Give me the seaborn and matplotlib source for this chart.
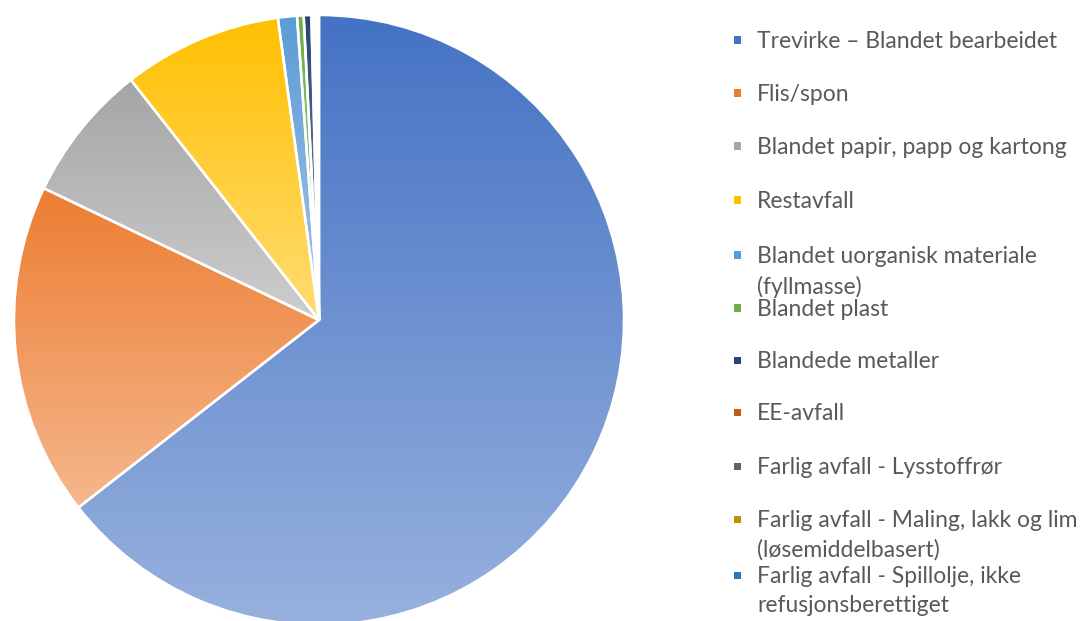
import numpy as np
import matplotlib
matplotlib.use("Agg")
import matplotlib.pyplot as plt
import matplotlib.colors as mcolors
from matplotlib.patches import Rectangle
import seaborn as sns

categories = [
    "Trevirke – Blandet bearbeidet",
    "Flis/spon",
    "Blandet papir, papp og kartong",
    "Restavfall",
    "Blandet uorganisk materiale\n(fyllmasse)",
    "Blandet plast",
    "Blandede metaller",
    "EE-avfall",
    "Farlig avfall - Lysstoffrør",
    "Farlig avfall - Maling, lakk og lim\n(løsemiddelbasert)",
    "Farlig avfall - Spillolje, ikke\nrefusjonsberettiget",
]
values = [64.3, 17.6, 7.3, 8.4, 1.0, 0.35, 0.4, 0.1, 0.1, 0.1, 0.1]
colors = ["#4472C4", "#ED7D31", "#A5A5A5", "#FFC000", "#5B9BD5", "#70AD47",
          "#264478", "#C55A11", "#636363", "#BF9000", "#2E75B6"]

sns.set_theme(style="white")
plt.rcParams["font.family"] = ["Lato", "DejaVu Sans"]

W, H = 1088, 621
fig = plt.figure(figsize=(W / 100, H / 100), dpi=100)
cx, cy, r = 319, 320, 305
ax = fig.add_axes([(cx - r) / W, (H - cy - r) / H, 2 * r / W, 2 * r / H])
ax.set_xlim(-1, 1)
ax.set_ylim(-1, 1)
ax.set_aspect("equal")
ax.axis("off")

wedges, _ = ax.pie(values, startangle=90, counterclock=False, radius=1,
                   colors=colors,
                   wedgeprops=dict(edgecolor="white", linewidth=1.8))

for w, c in zip(wedges, colors):
    verts = w.get_path().vertices
    x0, x1 = verts[:, 0].min(), verts[:, 0].max()
    y0, y1 = verts[:, 1].min(), verts[:, 1].max()
    base = np.array(mcolors.to_rgb(c))
    light = base + (1 - base) * 0.45
    t = np.linspace(0, 1, 256)[:, None]
    grad = (base[None, :] * (1 - t) + light[None, :] * t)[:, None, :]
    img = ax.imshow(grad, extent=[x0, x1, y0, y1], origin="upper",
                    aspect="auto", zorder=w.get_zorder() - 0.1,
                    interpolation="bilinear")
    img.set_clip_path(w)
    w.set_facecolor("none")
ax.set_xlim(-1, 1)
ax.set_ylim(-1, 1)

# legend
first_y = [40, 93, 146, 200, 255, 308, 360, 412, 466, 519, 575]
for lab, c, yy in zip(categories, colors, first_y):
    fig.patches.append(Rectangle((734 / W, (H - yy - 3.5) / H), 7 / W, 7 / H,
                                 transform=fig.transFigure, facecolor=c,
                                 edgecolor="none"))
    fig.text(757 / W, (H - yy + 9) / H, lab, fontsize=16.5, color="#595959",
             va="top", ha="left", linespacing=1.47)

fig.savefig("out.png", dpi=100)
